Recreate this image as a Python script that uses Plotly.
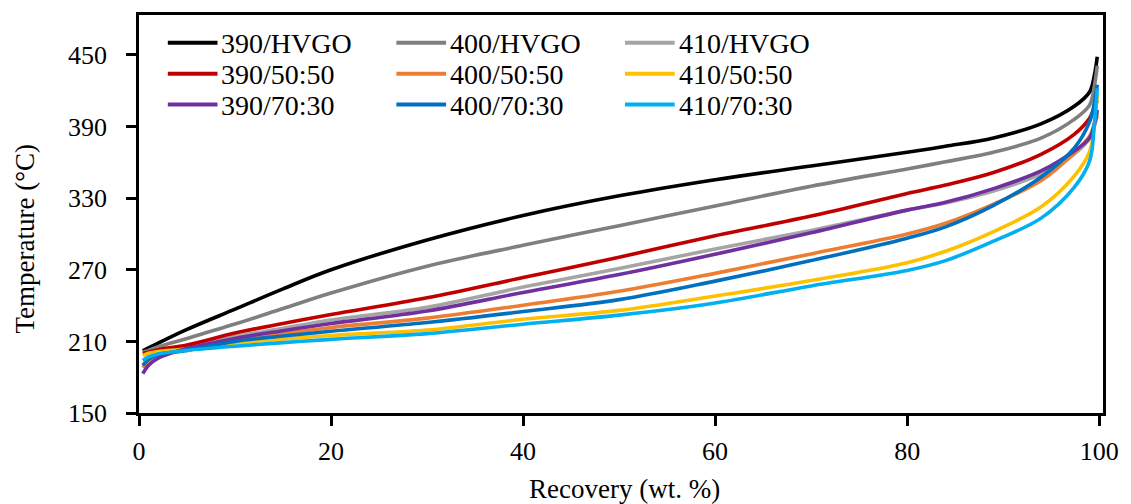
import plotly.graph_objects as go

# Recovery (wt. %) sample points
recovery = [0.4, 1, 2, 5, 10, 15, 20, 30, 40, 50, 60, 70, 80, 84, 89, 94, 97.4, 99, 99.5, 99.8]

# Temperature (°C) per series
t_390_hvgo = [202, 204.5, 208.5, 220, 237, 254, 270, 295, 315.5, 332, 345.5, 357, 368.5, 373.5, 380.5, 392.5, 407, 419, 433, 448.5]
t_400_hvgo = [201, 202.5, 205.5, 212.5, 224.5, 237.5, 250.5, 273, 290.5, 307, 323.5, 340, 354.5, 360.5, 368.5, 380.5, 396, 408, 424, 441]
t_410_hvgo = [199, 200, 202, 205.5, 214, 221, 228, 238.5, 255.5, 271, 287.5, 303, 320, 326, 336, 350.5, 367, 380, 390, 402]
t_390_5050 = [200, 201, 203, 207, 217, 225, 232.5, 246.5, 263.5, 280.5, 298.5, 315, 334, 341, 351.5, 367, 383.5, 397, 406, 412]
t_400_5050 = [188, 194, 199, 203, 211, 216.5, 221.7, 229.5, 240.3, 252, 267, 283.3, 300, 309, 325, 345, 368, 382, 392, 399]
t_410_5050 = [198, 200, 201.5, 203.5, 208.5, 212, 215, 219.5, 228.5, 236, 248, 261, 276, 285.5, 302, 323, 348.5, 369, 392, 417]
t_390_7030 = [183, 190, 196, 204, 212.5, 219, 225, 235.5, 251, 266, 283, 301, 320, 326.5, 338, 353, 369.5, 380.5, 392, 404]
t_400_7030 = [190, 195, 199, 202.5, 210, 214.5, 218.5, 225.8, 235, 245, 260.5, 277.7, 296.5, 306, 324, 348, 372, 394, 410, 425]
t_410_7030 = [194, 197, 199.5, 202.5, 206, 209, 211.7, 216.5, 224.4, 232, 242.2, 256.5, 269.5, 277.7, 294, 313.5, 339, 361, 392, 422]

series_names = ["390/HVGO", "400/HVGO", "410/HVGO",
                "390/50:50", "400/50:50", "410/50:50",
                "390/70:30", "400/70:30", "410/70:30"]
series_values = [t_390_hvgo, t_400_hvgo, t_410_hvgo,
                 t_390_5050, t_400_5050, t_410_5050,
                 t_390_7030, t_400_7030, t_410_7030]
series_colors = ["#000000", "#7F7F7F", "#A5A5A5",
                 "#C00000", "#ED7D31", "#FFC000",
                 "#7030A0", "#0070C0", "#00B0F0"]

x_ticks = [0, 20, 40, 60, 80, 100]
y_ticks = [150, 210, 270, 330, 390, 450]

W, H = 1131, 504
L, R, T, B = 139, 22, 13, 91
PW, PH = W - L - R, H - T - B
FONT = "Liberation Serif"


def px_x(p):
    return (p - L) / PW


def px_y(p):
    return (H - B - p) / PH


fig = go.Figure()
for name, vals, col in zip(series_names, series_values, series_colors):
    fig.add_trace(go.Scatter(x=recovery, y=vals, mode="lines", name=name,
                             line=dict(color=col, width=3.6, shape="spline", smoothing=1.0),
                             showlegend=False))

# manual legend (3 columns x 3 rows)
col_x = [168, 398, 628]
row_y = [41, 72, 103]
shapes = []
annotations = []
for i, (name, col) in enumerate(zip(series_names, series_colors)):
    r, c = divmod(i, 3)
    x0 = col_x[c]
    yy = row_y[r]
    shapes.append(dict(type="line", xref="paper", yref="paper",
                       x0=px_x(x0), x1=px_x(x0 + 50), y0=px_y(yy), y1=px_y(yy),
                       line=dict(color=col, width=4)))
    annotations.append(dict(text=name, xref="paper", yref="paper",
                            x=px_x(x0 + 52), y=px_y(yy + 1), xanchor="left", yanchor="middle",
                            showarrow=False, font=dict(family=FONT, size=28, color="#000")))

annotations.append(dict(text="Temperature (°C)", xref="paper", yref="paper",
                        x=px_x(24), y=px_y(238), textangle=-90, xanchor="center", yanchor="middle",
                        showarrow=False, font=dict(family=FONT, size=27, color="#000")))
annotations.append(dict(text="Recovery (wt. %)", xref="paper", yref="paper",
                        x=px_x(628), y=px_y(489), xanchor="center", yanchor="middle",
                        showarrow=False, font=dict(family=FONT, size=27, color="#000")))

fig.update_layout(
    width=W, height=H,
    margin=dict(l=L, r=R, t=T, b=B, pad=0),
    paper_bgcolor="white", plot_bgcolor="white",
    font=dict(family=FONT, size=26, color="#000"),
    shapes=shapes, annotations=annotations,
    showlegend=False,
)
fig.update_xaxes(range=[0, 100.4], tickvals=x_ticks, ticks="outside", ticklen=10, tickwidth=2.5,
                 tickcolor="#000", showline=True, linecolor="#000", linewidth=2.5, mirror=True,
                 showgrid=False, zeroline=False, ticklabelstandoff=3,
                 tickfont=dict(family=FONT, size=26, color="#000"))
fig.update_yaxes(range=[150, 483.5], tickvals=y_ticks, ticks="outside", ticklen=10, tickwidth=2.5,
                 tickcolor="#000", showline=True, linecolor="#000", linewidth=2.5, mirror=True,
                 showgrid=False, zeroline=False, ticklabelstandoff=14,
                 tickfont=dict(family=FONT, size=26, color="#000"))

fig.write_html("out.html")
